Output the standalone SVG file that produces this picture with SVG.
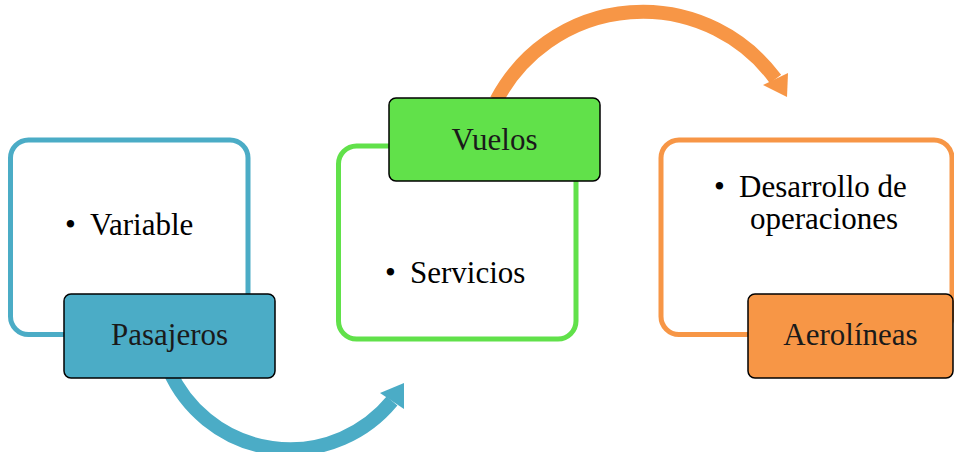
<svg xmlns="http://www.w3.org/2000/svg" width="954" height="452" viewBox="0 0 954 452">
  <style>
    .outline { fill: #FFFFFF; stroke-width: 5; }
    .label { stroke: #000000; stroke-width: 1.5; }
    .txt { font-family: "Liberation Serif", "Times New Roman", serif; font-size: 31px; fill: #000000; }
    .lbl { font-family: "Liberation Serif", "Times New Roman", serif; font-size: 31px; fill: #1a1a1a; text-anchor: middle; }
    .arc { fill: none; stroke-width: 14; }
  </style>
  <rect width="954" height="452" fill="#FFFFFF"/>
  <g id="connectors">
    <path class="arc" stroke="#4BACC6" d="M169.1,370 A132,132 0 0 0 392,401"/>
    <polygon fill="#4BACC6" points="380,393 404,383 404,409"/>
    <path class="arc" stroke="#F79646" d="M496.6,100 A165,165 0 0 1 775.5,79"/>
    <polygon fill="#F79646" points="763,85 788,73 787,97"/>
  </g>
  <g id="node-pasajeros">
    <rect class="outline" stroke="#4BACC6" x="10.5" y="140" width="237.5" height="194.5" rx="18"/>
    <text class="txt" x="65" y="235">•</text>
    <text class="txt" x="90" y="235">Variable</text>
    <rect class="label" fill="#4BACC6" x="64" y="294" width="211" height="84" rx="7"/>
    <text class="lbl" x="169.5" y="345">Pasajeros</text>
  </g>
  <g id="node-vuelos">
    <rect class="outline" stroke="#61E14A" x="338.5" y="146" width="237.5" height="193" rx="18"/>
    <text class="txt" x="385" y="283">•</text>
    <text class="txt" x="410" y="283">Servicios</text>
    <rect class="label" fill="#61E14A" x="389" y="98" width="211" height="83" rx="7"/>
    <text class="lbl" x="494.5" y="150">Vuelos</text>
  </g>
  <g id="node-aerolineas">
    <rect class="outline" stroke="#F79646" x="661" y="140" width="291" height="194.5" rx="18"/>
    <text class="txt" x="714" y="197">•</text>
    <text class="txt" x="739" y="197">Desarrollo de</text>
    <text class="txt" x="750" y="229">operaciones</text>
    <rect class="label" fill="#F79646" x="748" y="294" width="205" height="84" rx="7"/>
    <text class="lbl" x="850.5" y="345">Aerolíneas</text>
  </g>
</svg>
